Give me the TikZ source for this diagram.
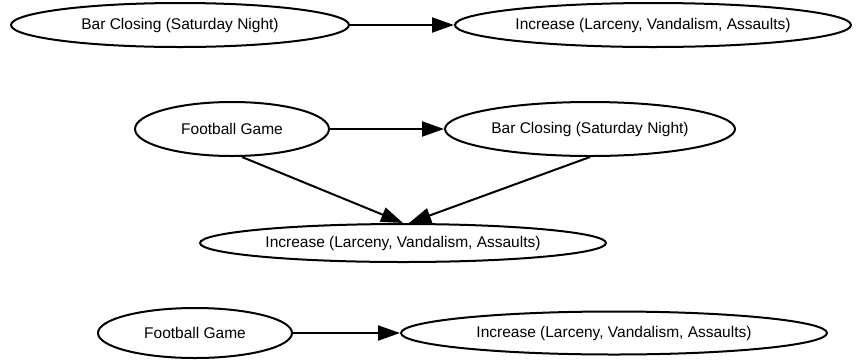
\documentclass[tikz,border=0pt]{standalone}
\usepackage{fontspec}
\setmainfont{Liberation Sans}
\usetikzlibrary{arrows.meta,shapes.geometric}
\begin{document}
\begin{tikzpicture}[x=1pt,y=-1pt,
  ell/.style={draw,line width=2pt,ellipse,inner sep=0pt,font=\fontsize{15.5}{18}\selectfont},
  arr/.style={line width=2pt,-{Triangle[length=22pt,width=15pt]}}]
\useasboundingbox (0,0) rectangle (857,360);
\node[ell,minimum width=338,minimum height=44] (bc1) at (180,25) {Bar Closing (Saturday Night)};
\node[ell,minimum width=396,minimum height=44] (inc1) at (653,25) {Increase (Larceny, Vandalism, Assaults)};
\draw[arr] (bc1) -- (inc1);
\node[ell,minimum width=194,minimum height=54] (fg2) at (232,129) {Football Game};
\node[ell,minimum width=290,minimum height=54] (bc2) at (590,129) {Bar Closing (Saturday Night)};
\node[ell,minimum width=406,minimum height=38] (inc2) at (403,243) {Increase (Larceny, Vandalism, Assaults)};
\draw[arr] (fg2) -- (bc2);
\draw[arr] (fg2.south) ++(10,0) coordinate (fgs) (fgs) -- (inc2.north);
\draw[arr] (bc2.south) -- ([xshift=6pt]inc2.north);
\node[ell,minimum width=194,minimum height=50] (fg3) at (195,333) {Football Game};
\node[ell,minimum width=426,minimum height=43] (inc3) at (614,333) {Increase (Larceny, Vandalism, Assaults)};
\draw[arr] (fg3) -- (inc3);
\end{tikzpicture}
\end{document}
